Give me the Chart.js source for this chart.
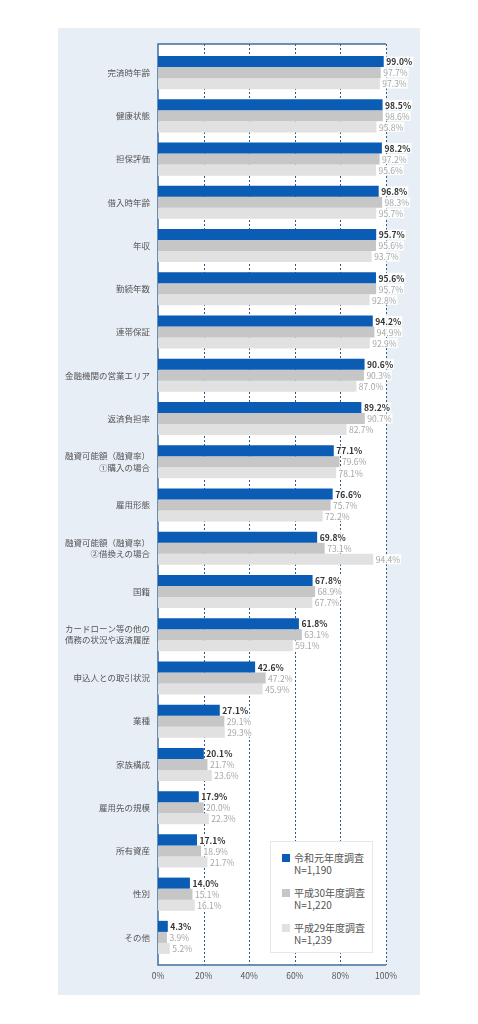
<!DOCTYPE html>
<html lang="ja">
<head>
<meta charset="utf-8">
<script src="https://cdn.jsdelivr.net/npm/chart.js@4.4.1/dist/chart.umd.min.js"></script>
<style>
	html, body { margin: 0; padding: 0; background: #fff; }
	#panel { position: absolute; left: 58px; top: 28px; width: 362px; height: 967px; background: #e8eef6; }
	#chart { position: absolute; left: 0; top: 0; }
	#legend { position: absolute; left: 270px; top: 841px; width: 103px; height: 112px; box-sizing: border-box;
		background: #fff; border: 1px solid #e4e8ee; padding: 10px 0 0 11px;
		font-family: "Noto Sans CJK JP", "Noto Sans", sans-serif; font-size: 10px; line-height: 12px; color: #555; }
	.item { position: relative; padding-left: 12px; margin-bottom: 11px; }
	.item i { position: absolute; left: 0; top: 2px; width: 8px; height: 8px; }
</style>
</head>
<body>
<div id="panel"></div>
<canvas id="chart" width="478" height="1024"></canvas>
<div id="legend"></div>
<script>
const categories = [
	"完済時年齢", "健康状態", "担保評価", "借入時年齢", "年収", "勤続年数", "連帯保証",
	"金融機関の営業エリア", "返済負担率", ["融資可能額（融資率）", "①購入の場合"], "雇用形態",
	["融資可能額（融資率）", "②借換えの場合"], "国籍", ["カードローン等の他の", "債務の状況や返済履歴"],
	"申込人との取引状況", "業種", "家族構成", "雇用先の規模", "所有資産", "性別", "その他"
]
const seriesNames = ["令和元年度調査", "平成30年度調査", "平成29年度調査"]
const sampleSizes = ["N=1,190", "N=1,220", "N=1,239"]
const reiwa1 = [99.0, 98.5, 98.2, 96.8, 95.7, 95.6, 94.2, 90.6, 89.2, 77.1, 76.6, 69.8, 67.8, 61.8, 42.6, 27.1, 20.1, 17.9, 17.1, 14.0, 4.3]
const heisei30 = [97.7, 98.6, 97.2, 98.3, 95.6, 95.7, 94.9, 90.3, 90.7, 79.6, 75.7, 73.1, 68.9, 63.1, 47.2, 29.1, 21.7, 20.0, 18.9, 15.1, 3.9]
const heisei29 = [97.3, 95.8, 95.6, 95.7, 93.7, 92.8, 92.9, 87.0, 82.7, 78.1, 72.2, 94.4, 67.7, 59.1, 45.9, 29.3, 23.6, 22.3, 21.7, 16.1, 5.2]
const xTicks = [0, 20, 40, 60, 80, 100]

const colors = ["#0b5cb5", "#c6c6c6", "#e1e1e1"]
const FONT = "'Noto Sans CJK JP', 'Noto Sans', sans-serif"

// white plot box, dotted grid and blue axis lines, a bit taller than chartArea
const frame = {
	id: "frame",
	beforeDatasetsDraw(chart) {
		const {ctx, chartArea: a, scales: {x}} = chart
		const top = a.top - 7, bottom = a.bottom + 6
		ctx.save()
		ctx.fillStyle = "#fff"
		ctx.fillRect(a.left, top, a.right - a.left, bottom - top)
		ctx.strokeStyle = "#2b5a8c"
		ctx.lineWidth = 1
		ctx.setLineDash([2, 2])
		xTicks.slice(1).forEach(v => {
			const px = Math.round(x.getPixelForValue(v)) + 0.5
			ctx.beginPath(); ctx.moveTo(px, top); ctx.lineTo(px, bottom); ctx.stroke()
		})
		ctx.setLineDash([])
		ctx.strokeStyle = "#3f6f9f"
		ctx.lineWidth = 1.5
		ctx.beginPath()
		ctx.moveTo(x.getPixelForValue(100), top)
		ctx.lineTo(a.left, top)
		ctx.lineTo(a.left, bottom)
		ctx.lineTo(x.getPixelForValue(100), bottom)
		ctx.stroke()
		ctx.restore()
	}
}

// value labels next to each bar, on a small white box
const valueLabels = {
	id: "valueLabels",
	afterDatasetsDraw(chart) {
		const ctx = chart.ctx
		ctx.save()
		ctx.textBaseline = "middle"
		chart.data.datasets.forEach((ds, di) => {
			chart.getDatasetMeta(di).data.forEach((bar, i) => {
				const txt = ds.data[i].toFixed(1) + "%"
				ctx.font = (di == 0 ? "bold " : "") + "8.5px " + FONT
				const w = ctx.measureText(txt).width
				const lx = bar.x + 2.5
				ctx.fillStyle = "rgba(255,255,255,0.9)"
				ctx.fillRect(lx - 1, bar.y - 5, w + 2, 10)
				ctx.fillStyle = di == 0 ? "#333" : "#a6a6a6"
				ctx.fillText(txt, lx, bar.y + 0.5)
			})
		})
		ctx.restore()
	}
}

const chart = new Chart(document.getElementById("chart"), {
	type: "bar",
	data: {
		labels: categories,
		datasets: [reiwa1, heisei30, heisei29].map((d, i) => ({
			label: seriesNames[i],
			data: d,
			backgroundColor: colors[i],
			borderWidth: 0,
			categoryPercentage: 0.765,
			barPercentage: 1.0
		}))
	},
	options: {
		indexAxis: "y",
		responsive: false,
		animation: false,
		layout: { padding: { left: 0, right: 92, top: 51, bottom: 35 } },
		plugins: { legend: { display: false }, tooltip: { enabled: false } },
		scales: {
			x: {
				min: 0, max: 100,
				afterBuildTicks: (s) => { s.ticks = xTicks.map(v => ({value: v})) },
				afterFit: (s) => { s.height = 30 },
				grid: { display: false, drawTicks: false },
				border: { display: false },
				ticks: { padding: 12, color: "#555", font: { family: FONT, size: 8.5 }, callback: (v) => v + "%" }
			},
			y: {
				afterFit: (s) => { s.width = 158 },
				grid: { display: false, drawTicks: false },
				border: { display: false },
				ticks: { padding: 8, color: "#555", font: { family: FONT, size: 8.5, lineHeight: 1.3 } }
			}
		}
	},
	plugins: [frame, valueLabels]
})

$legend = document.getElementById("legend")
seriesNames.forEach((name, i) => {
	$legend.insertAdjacentHTML("beforeend",
		"<div class='item'><i style='background:" + colors[i] + "'></i>" + name + "<br>" + sampleSizes[i] + "</div>")
})
</script>
</body>
</html>
